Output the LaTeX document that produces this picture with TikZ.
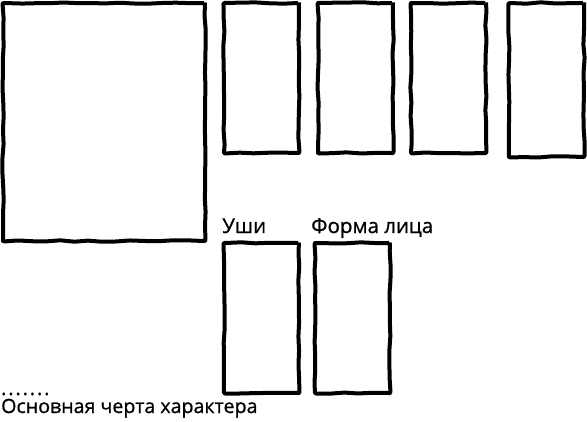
\documentclass[tikz,border=0pt]{standalone}
\usepackage{fontspec}
\setmainfont{Open Sans}[FakeBold=0.8]
\usetikzlibrary{positioning,decorations.pathmorphing}

\begin{document}
\begin{tikzpicture}[x=1pt,y=-1pt]
 \pgfmathsetseed{7}
 \tikzset{sketch box/.style={rectangle, draw, line width=4pt,
 		line join=round, rounded corners=1pt, decorate,
 		decoration={random steps,segment length=14pt,amplitude=0.7pt}}, }
 \tikzset{big box/.style={sketch box, minimum width=202pt, minimum height=238pt}, }
 \tikzset{slot box/.style={sketch box, minimum width=75pt, minimum height=150pt}, }
 \tikzset{label node/.style={inner sep=0pt, font=\fontsize{20.5}{24}\selectfont}, }
 \tikzset{trait node/.style={inner sep=0pt, font=\fontsize{19.6}{23}\selectfont}, }
 \useasboundingbox (0,0) rectangle (587,421);
 \node[big box] (face) at (104,122) {};
 \node[slot box, anchor=north west] (s1) at ([xshift=15pt]face.north east) {};
 \node[slot box] (s2)[right=15pt of s1] {};
 \node[slot box] (s3)[right=14pt of s2] {};
 \node[slot box, minimum height=154pt, anchor=north west] (s4) at ([xshift=19pt]s3.north east) {};
 \node[slot box] (ears)[below=86pt of s1] {};
 \node[slot box] (shape)[right=12pt of ears] {};
% labels
 \node[label node, anchor=base west] (earslbl) at ([yshift=8pt]ears.north west) {Уши};
 \node[label node, anchor=base west] (shapelbl) at ([xshift=-2pt,yshift=8pt]shape.north west) {Форма лица};
 \node[trait node, anchor=base west] (trait) at (1,413) {Основная черта характера};
 \node[trait node, anchor=base west] (blank) at (1,395)
 		{\addfontfeature{LetterSpace=10}.......};
 \end{tikzpicture}
\end{document}
